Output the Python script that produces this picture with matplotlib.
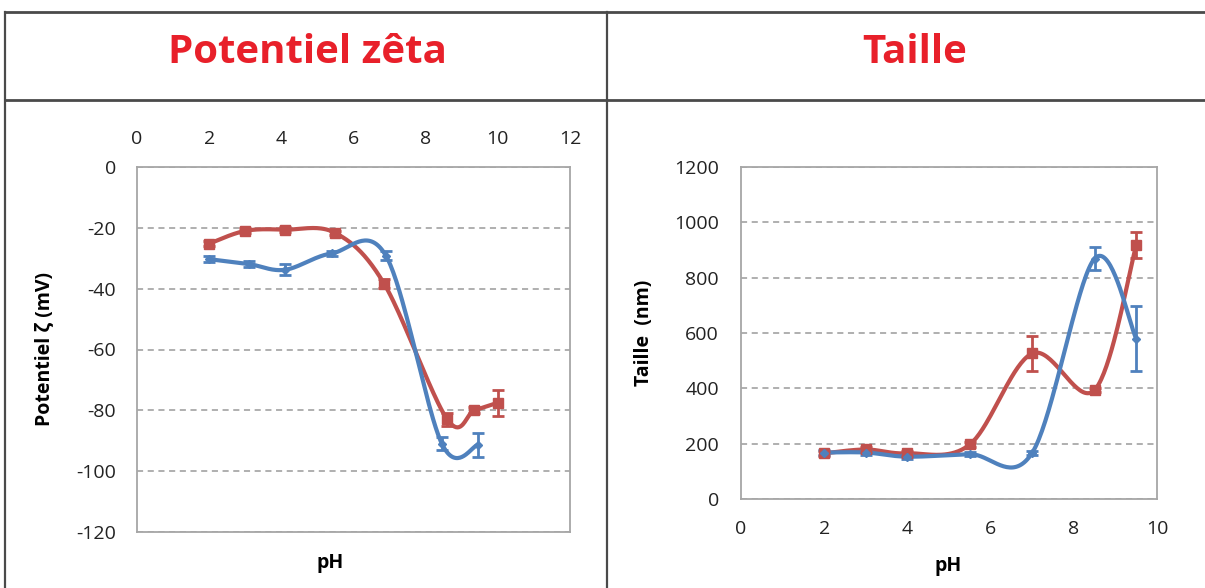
import numpy as np
import matplotlib.pyplot as plt
from matplotlib.lines import Line2D

# --- data ---
# Potentiel zeta (mV) vs pH
zeta_ph_red = [2.0, 3.0, 4.1, 5.5, 6.85, 8.6, 9.35, 10.0]
zeta_red = [-25.2, -21.0, -20.6, -21.7, -38.4, -83.0, -80.0, -77.5]
zeta_err_red = [0.8, 0.8, 0.8, 0.8, 1.5, 2.0, 1.0, 4.2]

zeta_ph_blue = [2.0, 3.1, 4.1, 5.4, 6.9, 8.45, 9.45]
zeta_blue = [-30.3, -31.9, -33.8, -28.4, -29.2, -91.0, -91.4]
zeta_err_blue = [1.0, 1.0, 1.8, 0.8, 1.5, 2.2, 3.8]

# Taille (nm) vs pH
size_ph = [2.0, 3.0, 4.0, 5.5, 7.0, 8.5, 9.5]
size_red = [165, 179, 165, 197, 526, 394, 917]
size_err_red = [8, 8, 8, 8, 63, 8, 47]
size_blue = [168, 168, 153, 162, 167, 869, 580]
size_err_blue = [8, 8, 8, 8, 8, 42, 119]

RED = '#C0504D'
BLUE = '#4F81BD'
GRID = '#9A9A9A'
FRAME = '#A6A6A6'

plt.rcParams['font.family'] = ['Open Sans', 'DejaVu Sans']
plt.rcParams['axes.unicode_minus'] = False


def smooth(x, y, n=40):
    # Excel-like smoothed line (Catmull-Rom bezier)
    pts = np.column_stack([x, y]).astype(float)
    out = []
    for i in range(len(pts) - 1):
        p0 = pts[i - 1] if i > 0 else pts[i]
        p1 = pts[i]
        p2 = pts[i + 1]
        p3 = pts[i + 2] if i + 2 < len(pts) else pts[i + 1]
        c1 = p1 + (p2 - p0) / 6
        c2 = p2 - (p3 - p1) / 6
        t = np.linspace(0, 1, n)[:, None]
        seg = (1 - t)**3 * p1 + 3 * (1 - t)**2 * t * c1 + 3 * (1 - t) * t**2 * c2 + t**3 * p2
        out.append(seg if i == 0 else seg[1:])
    return np.vstack(out)


def draw_series(ax, x, y, err, color, marker, ms):
    c = smooth(x, y)
    ax.plot(c[:, 0], c[:, 1], color=color, lw=3, solid_capstyle='round', zorder=3)
    ax.errorbar(x, y, yerr=err, fmt=marker, color=color, ms=ms, ecolor=color,
                elinewidth=2, capsize=4, capthick=2, zorder=4)


def style_axes(ax):
    for s in ax.spines.values():
        s.set_color(FRAME)
        s.set_linewidth(1.3)
    ax.tick_params(length=0, labelsize=14, colors='#222222')
    ax.yaxis.grid(True, color=GRID, linestyle=(0, (4, 3)), linewidth=1.1)
    ax.set_axisbelow(True)


fig = plt.figure(figsize=(12.05, 5.88), dpi=100)

# header table lines
lc = '#4A4A4A'
fig.add_artist(Line2D([5 / 1205, 1], [1 - 12 / 588] * 2, color=lc, lw=2))
fig.add_artist(Line2D([5 / 1205, 1], [1 - 100 / 588] * 2, color=lc, lw=2))
fig.add_artist(Line2D([5 / 1205] * 2, [0, 1 - 12 / 588], color=lc, lw=1.6))
fig.add_artist(Line2D([607 / 1205] * 2, [0, 1 - 12 / 588], color=lc, lw=1.6))

fig.text(307 / 1205, 1 - 63 / 588, 'Potentiel zêta', color='#E8202A',
         fontsize=29, fontweight='bold', ha='center', va='baseline')
fig.text(915 / 1205, 1 - 63 / 588, 'Taille', color='#E8202A',
         fontsize=29, fontweight='bold', ha='center', va='baseline')

# left: zeta potential
ax1 = fig.add_axes([137 / 1205, 1 - 532 / 588, 433 / 1205, 365 / 588])
style_axes(ax1)
ax1.set_xlim(0, 12)
ax1.set_ylim(-120, 0)
ax1.set_xticks(np.arange(0, 13, 2))
ax1.set_yticks(np.arange(-120, 1, 20))
ax1.xaxis.tick_top()
ax1.tick_params(axis='x', pad=14)
ax1.tick_params(axis='y', pad=15)
draw_series(ax1, zeta_ph_red, zeta_red, zeta_err_red, RED, 's', 7)
draw_series(ax1, zeta_ph_blue, zeta_blue, zeta_err_blue, BLUE, 'D', 4.5)
ax1.set_ylabel('Potentiel ζ (mV)', fontsize=14, fontweight='bold')
ax1.yaxis.set_label_coords((54 - 137) / 433, 0.5)
fig.text(330 / 1205, 1 - 563 / 588, 'pH', fontsize=14, fontweight='bold',
         ha='center', va='center')

# right: size
ax2 = fig.add_axes([741 / 1205, 1 - 499 / 588, 416 / 1205, 332 / 588])
style_axes(ax2)
ax2.set_xlim(0, 10)
ax2.set_ylim(0, 1200)
ax2.set_xticks(np.arange(0, 11, 2))
ax2.set_yticks(np.arange(0, 1201, 200))
ax2.tick_params(axis='x', pad=15)
ax2.tick_params(axis='y', pad=16)
draw_series(ax2, size_ph, size_red, size_err_red, RED, 's', 7)
draw_series(ax2, size_ph, size_blue, size_err_blue, BLUE, 'D', 4.5)
ax2.set_ylabel('Taille  (nm)', fontsize=14, fontweight='bold')
ax2.yaxis.set_label_coords((654 - 741) / 416, 0.5)
fig.text(948 / 1205, 1 - 566 / 588, 'pH', fontsize=14, fontweight='bold',
         ha='center', va='center')

fig.savefig('out.png', dpi=100)
